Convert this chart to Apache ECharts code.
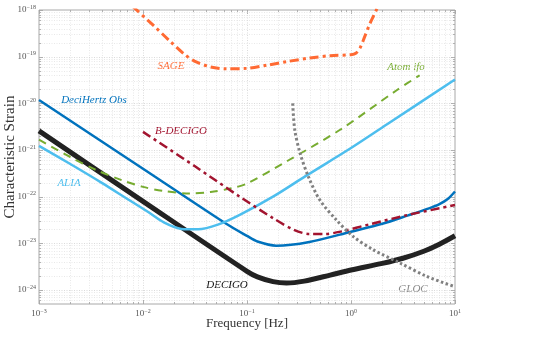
<!DOCTYPE html>
<html><head><meta charset="utf-8">
<script src="https://cdn.jsdelivr.net/npm/echarts@6/dist/echarts.min.js"></script>
<style>html,body{margin:0;padding:0;background:#fff}#c{width:558px;height:344px}</style>
</head><body><div id="c"></div>
<script>
// ---- data (Hz, characteristic strain) ----
const decigoF = [1e-3, 1e-2, 0.1, 0.126, 0.178, 0.240, 0.355, 0.631, 1, 2.0, 3.16, 5.01, 7.08, 10];
const decigoH = [2.57e-21, 7.94e-23, 2.51e-24, 1.91e-24, 1.51e-24, 1.41e-24, 1.55e-24, 2.09e-24, 2.69e-24, 3.72e-24, 4.79e-24, 6.76e-24, 9.55e-24, 1.45e-23];

const deciHzF = [1e-3, 1e-2, 0.0631, 0.1, 0.126, 0.191, 0.398, 1, 2.0, 3.55, 5.62, 7.08, 8.51, 10];
const deciHzH = [1.175e-20, 3.98e-22, 2.63e-23, 1.445e-23, 1.096e-23, 8.91e-24, 1.072e-23, 1.778e-23, 2.63e-23, 3.98e-23, 5.62e-23, 6.92e-23, 8.91e-23, 1.29e-22];

const aliaF = [1e-3, 2.0e-3, 3.98e-3, 7.08e-3, 1.122e-2, 1.585e-2, 2.344e-2, 3.388e-2, 5.248e-2, 8.511e-2, 0.1778, 0.3715, 1, 2.399, 10];
const aliaH = [1.23e-21, 5.01e-22, 2.0e-22, 8.91e-23, 4.68e-23, 2.82e-23, 2.04e-23, 2.0e-23, 2.51e-23, 4.07e-23, 1e-22, 2.82e-22, 1.10e-21, 3.98e-21, 3.24e-20];

const atomF = [1e-3, 2.0e-3, 3.55e-3, 6.31e-3, 1e-2, 1.58e-2, 2.82e-2, 4.47e-2, 7.08e-2, 0.1, 0.251, 0.794, 2.75, 4.57];
const atomH = [1.66e-21, 7.08e-22, 3.72e-22, 2.24e-22, 1.62e-22, 1.32e-22, 1.17e-22, 1.26e-22, 1.51e-22, 1.91e-22, 6.03e-22, 2.75e-21, 1.91e-20, 3.98e-20];

const bdecigoF = [1e-2, 3.16e-2, 8.51e-2, 0.178, 0.282, 0.398, 0.562, 0.794, 1.585, 3.55, 10];
const bdecigoH = [2.45e-21, 4.47e-22, 1e-22, 3.47e-23, 1.95e-23, 1.585e-23, 1.585e-23, 1.78e-23, 2.63e-23, 4.07e-23, 6.61e-23];

const sageF = [7.94e-3, 1.26e-2, 1.82e-2, 2.51e-2, 3.16e-2, 4.47e-2, 6.31e-2, 0.1, 0.158, 0.251, 0.398, 0.631, 1.0, 1.122, 1.230, 1.349, 1.514, 1.778, 1.905];
const sageH = [1.20e-18, 4.68e-19, 2.14e-19, 1.12e-19, 7.94e-20, 6.03e-20, 5.50e-20, 5.62e-20, 6.61e-20, 7.94e-20, 9.33e-20, 1.05e-19, 1.10e-19, 1.20e-19, 1.585e-19, 2.63e-19, 5.01e-19, 1.07e-18, 1.51e-18];

const glocF = [0.275, 0.288, 0.324, 0.389, 0.501, 0.724, 1.047, 1.641, 2.951, 5.370, 10];
const glocH = [1e-20, 2.69e-21, 8.51e-22, 2.69e-22, 8.51e-23, 3.16e-23, 1.41e-23, 7.24e-24, 3.80e-24, 1.95e-24, 1.175e-24];

// axis range (decades) and tick labels
const xMinExp = -3, xMaxExp = 1, yMinExp = -24.3, yMaxExp = -18;
const xTickExps = [-3, -2, -1, 0, 1];
const yTickExps = [-24, -23, -22, -21, -20, -19, -18];

// ---- chart ----
const SERIF = '"Liberation Serif","DejaVu Serif",serif';
const L10 = Math.log10;
function pairs(f, h) { return f.map((v, i) => [L10(v), L10(h[i])]); }
function supText(e) { return '{b|10}{s|' + (e < 0 ? '\u2212' : '') + Math.abs(e) + '}'; }
const labelRich = {
  b: { fontFamily: SERIF, fontSize: 9, fill: '#555', color: '#555' },
  s: { fontFamily: SERIF, fontSize: 6, fill: '#555', color: '#555', padding: [0, 0, 6, 0] }
};

function lineSeries(name, f, h, color, width, dash, z) {
  return {
    name, type: 'line', data: pairs(f, h), showSymbol: false, smooth: 0.3,
    clip: true, z: z || 2, silent: true,
    lineStyle: { color, width, type: dash || 'solid', cap: 'butt', join: 'round' }
  };
}

const chart = echarts.init(document.getElementById('c'), null, { renderer: 'canvas' });
const option = {
  animation: false,
  backgroundColor: '#fff',
  grid: { left: 39, right: 103, top: 10, bottom: 40, show: true, borderColor: '#a8a8a8', borderWidth: 1,
          backgroundColor: 'transparent', containLabel: false, outerBoundsMode: 'none' },
  xAxis: {
    type: 'value', min: xMinExp, max: xMaxExp, interval: 1,
    axisLine: { show: false }, axisTick: { show: false }, splitLine: { show: false }, axisLabel: { show: false },
    name: 'Frequency [Hz]', nameLocation: 'middle', nameGap: 13,
    nameTextStyle: { fontFamily: SERIF, fontSize: 13, color: '#333' }
  },
  yAxis: {
    type: 'value', min: yMinExp, max: yMaxExp,
    axisLine: { show: false }, axisTick: { show: false }, splitLine: { show: false }, axisLabel: { show: false },
    name: 'Characteristic Strain', nameLocation: 'middle', nameGap: 21, nameRotate: 90,
    nameTextStyle: { fontFamily: SERIF, fontSize: 15, color: '#333' }
  },
  series: [
    {
      type: 'custom', silent: true, z: 0, clip: false, data: [[-1, -21]],
      renderItem(params, api) {
        const cs = params.coordSys;
        const L = cs.x, T = cs.y, R = cs.x + cs.width, B = cs.y + cs.height;
        const ch = [];
        const grid = (x1, y1, x2, y2, major) => ch.push({ type: 'line', shape: { x1, y1, x2, y2 },
          style: { stroke: major ? '#d2d2d2' : '#e2e2e2', lineWidth: 0.8, lineDash: [1, 1.5] } });
        const tick = (x1, y1, x2, y2) => ch.push({ type: 'line', shape: { x1, y1, x2, y2 },
          style: { stroke: '#a0a0a0', lineWidth: 0.8 } });
        for (let d = Math.floor(xMinExp); d <= Math.ceil(xMaxExp); d++) {
          for (let k = 1; k <= 9; k++) {
            const e = d + L10(k);
            if (e < xMinExp - 1e-9 || e > xMaxExp + 1e-9) continue;
            const x = Math.round(api.coord([e, -21])[0]) + 0.5;
            const major = k === 1, len = major ? 4 : 2;
            if (x > L + 1 && x < R - 1) grid(x, T, x, B, major);
            tick(x, B, x, B - len); tick(x, T, x, T + len);
          }
        }
        for (let d = Math.floor(yMinExp); d <= Math.ceil(yMaxExp); d++) {
          for (let k = 1; k <= 9; k++) {
            const e = d + L10(k);
            if (e < yMinExp - 1e-9 || e > yMaxExp + 1e-9) continue;
            const y = Math.round(api.coord([-1, e])[1]) + 0.5;
            const major = k === 1, len = major ? 4 : 2;
            if (y > T + 1 && y < B - 1) grid(L, y, R, y, major);
            tick(L, y, L + len, y); tick(R, y, R - len, y);
          }
        }
        xTickExps.forEach(e => {
          const x = api.coord([e, -21])[0];
          ch.push({ type: 'text', x: x, y: B + 4, style: { text: supText(e), rich: labelRich, align: 'center', verticalAlign: 'top' } });
        });
        yTickExps.forEach(e => {
          const y = api.coord([-1, e])[1];
          ch.push({ type: 'text', x: L - 3, y: y, style: { text: supText(e), rich: labelRich, align: 'right', verticalAlign: 'middle' } });
        });
        return { type: 'group', children: ch };
      }
    },
    lineSeries('DECIGO', decigoF, decigoH, '#222222', 5, 'solid', 2),
    lineSeries('DeciHertz Obs', deciHzF, deciHzH, '#0072BD', 2.5, 'solid', 3),
    lineSeries('ALIA', aliaF, aliaH, '#4DBEEE', 2.5, 'solid', 3),
    lineSeries('Atom ifo', atomF, atomH, '#77AC30', 2, [8, 6], 4),
    lineSeries('B-DECIGO', bdecigoF, bdecigoH, '#A2142F', 2.5, [9, 4, 3, 4], 4),
    lineSeries('SAGE', sageF, sageH, '#FF6A33', 3, [9, 4, 3, 4], 4),
    lineSeries('GLOC', glocF, glocH, '#808080', 3, [2.5, 2.5], 5)
  ],
  graphic: [
    { type: 'text', x: 171, y: 66, style: { text: 'SAGE', font: 'italic 11px ' + SERIF, fill: '#FF6A33', align: 'center', verticalAlign: 'middle' } },
    { type: 'text', x: 406, y: 67, style: { text: 'Atom ifo', font: 'italic 11px ' + SERIF, fill: '#77AC30', align: 'center', verticalAlign: 'middle' } },
    { type: 'text', x: 94, y: 100, style: { text: 'DeciHertz Obs', font: 'italic 11px ' + SERIF, fill: '#0072BD', align: 'center', verticalAlign: 'middle' } },
    { type: 'text', x: 181, y: 131, style: { text: 'B-DECIGO', font: 'italic 11px ' + SERIF, fill: '#A2142F', align: 'center', verticalAlign: 'middle' } },
    { type: 'text', x: 69, y: 183, style: { text: 'ALIA', font: 'italic 11px ' + SERIF, fill: '#4DBEEE', align: 'center', verticalAlign: 'middle' } },
    { type: 'text', x: 227, y: 285, style: { text: 'DECIGO', font: 'italic 11px ' + SERIF, fill: '#111', align: 'center', verticalAlign: 'middle' } },
    { type: 'text', x: 413, y: 289, style: { text: 'GLOC', font: 'italic 11px ' + SERIF, fill: '#8a8a8a', align: 'center', verticalAlign: 'middle' } }
  ]
};
chart.setOption(option);
</script></body></html>
